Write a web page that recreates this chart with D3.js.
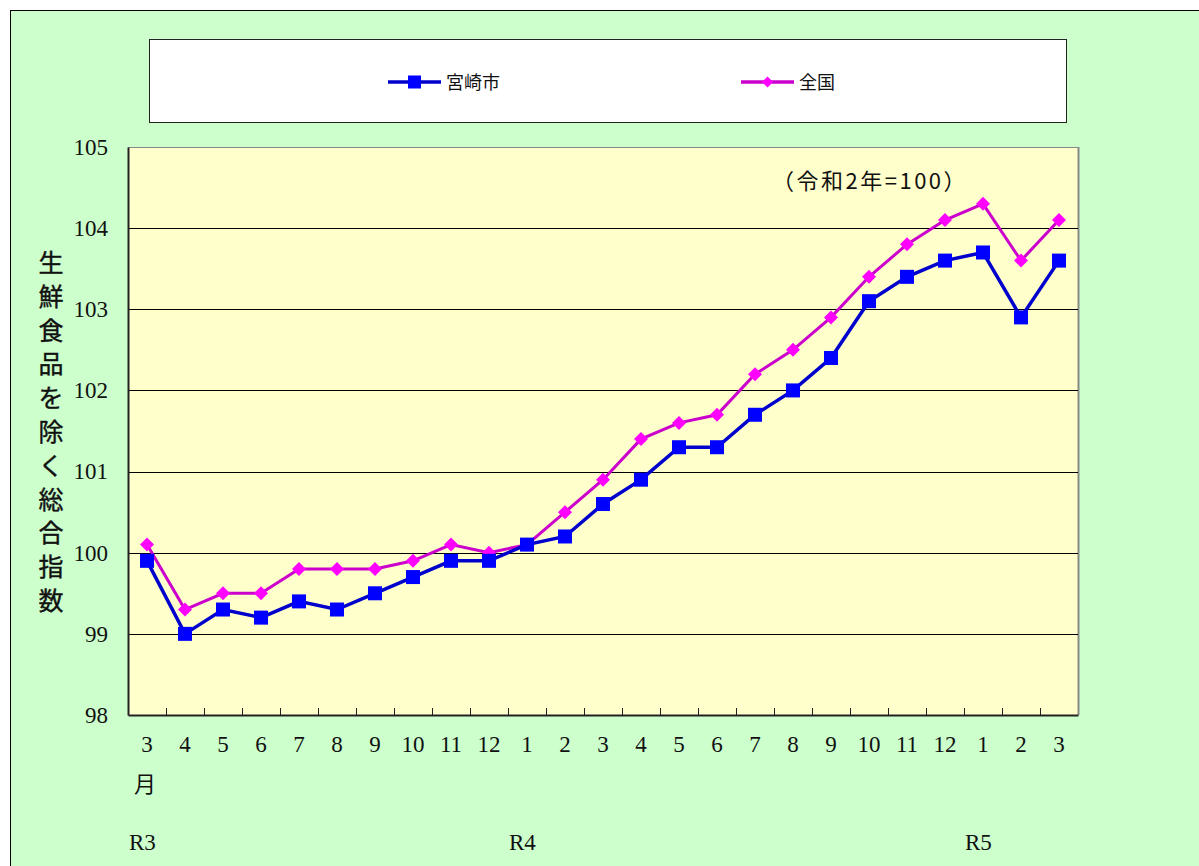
<!DOCTYPE html>
<html>
<head>
    <meta charset="utf-8">
    <title>宮崎市 消費者物価指数</title>
    <style>
        body { margin: 0; background: #fff; }
        text { font-family: "Noto Sans CJK JP", "DejaVu Sans", sans-serif; }
        .num { font-family: "Liberation Serif", "Noto Sans CJK JP", serif; }
    </style>
</head>
<body>
    <script src="https://cdnjs.cloudflare.com/ajax/libs/d3/7.9.0/d3.min.js"></script>
    <script>

        const months = ["3","4","5","6","7","8","9","10","11","12","1","2","3","4","5","6","7","8","9","10","11","12","1","2","3"];
        const miyazaki = [99.9, 99.0, 99.3, 99.2, 99.4, 99.3, 99.5, 99.7, 99.9, 99.9, 100.1, 100.2, 100.6, 100.9, 101.3, 101.3, 101.7, 102.0, 102.4, 103.1, 103.4, 103.6, 103.7, 102.9, 103.6];
        const zenkoku = [100.1, 99.3, 99.5, 99.5, 99.8, 99.8, 99.8, 99.9, 100.1, 100.0, 100.1, 100.5, 100.9, 101.4, 101.6, 101.7, 102.2, 102.5, 102.9, 103.4, 103.8, 104.1, 104.3, 103.6, 104.1];
        const yTicks = [98, 99, 100, 101, 102, 103, 104, 105];
        const years = [{label: "R3", idx: 0}, {label: "R4", idx: 10}, {label: "R5", idx: 22}];
        const seriesNames = ["宮崎市", "全国"];

        const width = 1199;
        const height = 866;
        const plot = {left: 128, top: 147, right: 1078, bottom: 715};

        const svg = d3.select("body")
            .append("svg")
            .attr("width", width)
            .attr("height", height);

        // outer background
        svg.append("rect")
            .attr("x", 10.5).attr("y", 10.5)
            .attr("width", width).attr("height", height)
            .attr("fill", "#CCFFCC")
            .attr("stroke", "#000");

        // legend box
        svg.append("rect")
            .attr("x", 149.5).attr("y", 39.5)
            .attr("width", 917).attr("height", 83)
            .attr("fill", "#fff")
            .attr("stroke", "#222");

        const x = d3.scaleBand()
            .domain(d3.range(months.length))
            .range([plot.left, plot.right]);

        const y = d3.scaleLinear()
            .domain([98, 105])
            .range([plot.bottom, plot.top]);

        // plot area
        svg.append("rect")
            .attr("x", plot.left).attr("y", plot.top)
            .attr("width", plot.right - plot.left).attr("height", plot.bottom - plot.top)
            .attr("fill", "#FFFFCC");

        svg.append("line")
            .attr("x1", plot.right + 0.5).attr("x2", plot.right + 0.5)
            .attr("y1", plot.top).attr("y2", plot.bottom)
            .attr("stroke", "#888").attr("stroke-width", 2);
        svg.append("line")
            .attr("x1", plot.left).attr("x2", plot.right)
            .attr("y1", plot.top + 0.5).attr("y2", plot.top + 0.5)
            .attr("stroke", "#888");

        // gridlines
        svg.append("g")
            .selectAll("line")
            .data(yTicks.slice(1, -1))
            .join("line")
            .attr("x1", plot.left).attr("x2", plot.right)
            .attr("y1", d => Math.round(y(d)) + 0.5)
            .attr("y2", d => Math.round(y(d)) + 0.5)
            .attr("stroke", "#000");

        // y axis
        const yAxis = svg.append("g")
            .attr("transform", `translate(${plot.left},0)`)
            .call(d3.axisLeft(y).tickValues(yTicks).tickFormat(d3.format("d")).tickSize(0).tickPadding(20));
        yAxis.select(".domain").attr("stroke", "#222").attr("stroke-width", 2);
        yAxis.selectAll("text")
            .attr("class", "num")
            .attr("font-size", 23)
            .attr("fill", "#111");

        // x axis
        const xAxis = svg.append("g")
            .attr("transform", `translate(0,${plot.bottom})`)
            .call(d3.axisBottom(x).tickFormat(i => months[i]).tickSize(0).tickPadding(21));
        xAxis.select(".domain").attr("stroke", "#222").attr("stroke-width", 2);
        xAxis.selectAll("text")
            .attr("class", "num")
            .attr("font-size", 23)
            .attr("fill", "#111");

        // inner tick marks between categories
        svg.append("g")
            .selectAll("line")
            .data(d3.range(1, months.length))
            .join("line")
            .attr("x1", i => Math.round(x(i)) + 0.5)
            .attr("x2", i => Math.round(x(i)) + 0.5)
            .attr("y1", plot.bottom)
            .attr("y2", plot.bottom - 7)
            .attr("stroke", "#222");

        // "月" under first month
        svg.append("text")
            .attr("x", x(0) + x.bandwidth() / 2 - 2)
            .attr("y", 792)
            .attr("text-anchor", "middle")
            .attr("font-size", 22)
            .attr("fill", "#111")
            .text("月");

        // year labels
        svg.append("g")
            .selectAll("text")
            .data(years)
            .join("text")
            .attr("class", "num")
            .attr("x", d => x(d.idx) + 1)
            .attr("y", 850)
            .attr("font-size", 23)
            .attr("fill", "#111")
            .text(d => d.label);

        // y title (vertical)
        const title = "生鮮食品を除く総合指数".split("");
        svg.append("g")
            .selectAll("text")
            .data(title)
            .join("text")
            .attr("x", 51)
            .attr("y", (d, i) => 272 + i * 33.8)
            .attr("text-anchor", "middle")
            .attr("font-size", 25)
            .attr("fill", "#111")
            .attr("stroke", "#111")
            .attr("stroke-width", 0.4)
            .text(d => d);

        // base note
        svg.append("text")
            .attr("x", 772)
            .attr("y", 189)
            .attr("font-size", 22)
            .attr("letter-spacing", 2.5)
            .attr("fill", "#111")
            .text("（令和2年=100）");

        const cx = i => x(i) + x.bandwidth() / 2;
        const line = d3.line().x((d, i) => cx(i)).y(d => y(d));

        // 全国
        svg.append("path")
            .datum(zenkoku)
            .attr("d", line)
            .attr("fill", "none")
            .attr("stroke", "#CC00CC")
            .attr("stroke-width", 3);
        svg.append("g")
            .selectAll("path")
            .data(zenkoku)
            .join("path")
            .attr("d", d3.symbol(d3.symbolSquare, 98))
            .attr("transform", (d, i) => `translate(${cx(i)},${y(d)}) rotate(45)`)
            .attr("fill", "#FF00FF");

        // 宮崎市
        svg.append("path")
            .datum(miyazaki)
            .attr("d", line)
            .attr("fill", "none")
            .attr("stroke", "#0000CC")
            .attr("stroke-width", 3.5);
        svg.append("g")
            .selectAll("rect")
            .data(miyazaki)
            .join("rect")
            .attr("x", (d, i) => cx(i) - 7)
            .attr("y", d => y(d) - 7)
            .attr("width", 14)
            .attr("height", 14)
            .attr("fill", "#0000FF");

        // legend
        const legend = svg.append("g");
        const items = [
            {name: seriesNames[0], x: 388, stroke: "#0000CC", fill: "#0000FF", shape: "square"},
            {name: seriesNames[1], x: 741, stroke: "#CC00CC", fill: "#FF00FF", shape: "diamond"}
        ];
        items.forEach(it => {
            const g = legend.append("g").attr("transform", `translate(${it.x},82)`);
            g.append("line")
                .attr("x1", 0).attr("x2", 53)
                .attr("stroke", it.stroke).attr("stroke-width", 3.5);
            if (it.shape === "square") {
                g.append("rect").attr("x", 20).attr("y", -6.5).attr("width", 13).attr("height", 13).attr("fill", it.fill);
            } else {
                g.append("path")
                    .attr("d", d3.symbol(d3.symbolSquare, 60))
                    .attr("transform", "translate(26.5,0) rotate(45)")
                    .attr("fill", it.fill);
            }
            g.append("text")
                .attr("x", 58).attr("y", 7)
                .attr("font-size", 18)
                .attr("fill", "#111")
                .text(it.name);
        });

    </script>
</body>
</html>
